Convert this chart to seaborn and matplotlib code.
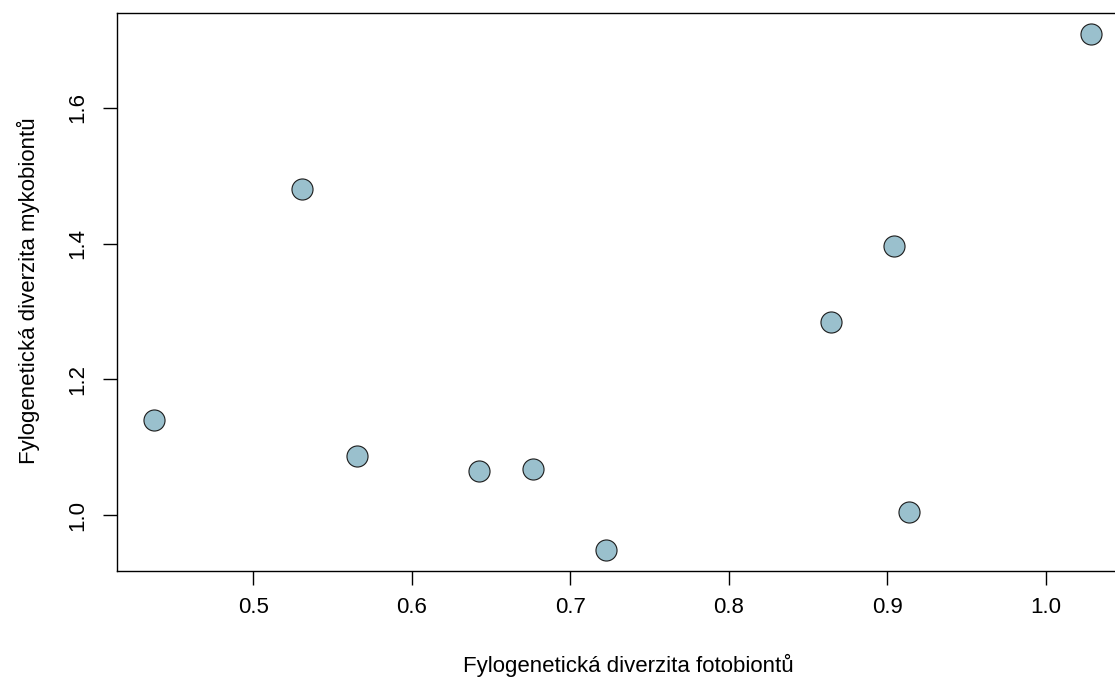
import matplotlib
matplotlib.use("Agg")
import matplotlib.pyplot as plt
import seaborn as sns
import pandas as pd

# data
fotobionti = [0.4377, 0.5305, 0.5655, 0.6423, 0.6763, 0.7229, 0.8646, 0.9043, 0.9137, 1.0283]
mykobionti = [1.141, 1.481, 1.088, 1.065, 1.068, 0.9485, 1.285, 1.397, 1.0044, 1.709]
x_ticks = [0.5, 0.6, 0.7, 0.8, 0.9, 1.0]
y_ticks = [1.0, 1.2, 1.4, 1.6]

df = pd.DataFrame({"foto": fotobionti, "myko": mykobionti})

sns.set_style("white")
plt.rcParams["font.family"] = ["Liberation Sans", "DejaVu Sans"]

fig = plt.figure(figsize=(11.15, 6.78), dpi=100)
ax = fig.add_axes([117 / 1115, 107 / 678, (1128 - 117) / 1115, (571 - 13) / 678])

sns.scatterplot(data=df, x="foto", y="myko", ax=ax, s=230, color="#9ac0cd",
                edgecolor="#1a1a1a", linewidth=0.8, zorder=3)

# R-style 4% padding
xr = max(fotobionti) - min(fotobionti)
yr = max(mykobionti) - min(mykobionti)
ax.set_xlim(min(fotobionti) - 0.04 * xr, max(fotobionti) + 0.04 * xr)
ax.set_ylim(min(mykobionti) - 0.04 * yr, max(mykobionti) + 0.04 * yr)

ax.set_xticks(x_ticks)
ax.set_xticklabels([f"{v:.1f}" for v in x_ticks])
ax.set_yticks(y_ticks)
ax.set_yticklabels([f"{v:.1f}" for v in y_ticks], rotation=90, va="center")
ax.tick_params(axis="both", direction="out", length=10, width=1, color="black",
               labelsize=16, pad=9, left=True, bottom=True, labelcolor="black")
ax.tick_params(axis="y", pad=11)

for sp in ax.spines.values():
    sp.set_color("black")
    sp.set_linewidth(1)

ax.set_xlabel("Fylogenetická diverzita fotobiontů", fontsize=16, color="black")
ax.set_ylabel("Fylogenetická diverzita mykobiontů", fontsize=16, color="black")
ax.xaxis.label.set_va("center")
ax.yaxis.label.set_va("center")
ax.xaxis.set_label_coords((628 - 117) / (1128 - 117), -(665 - 571) / (571 - 13))
ax.yaxis.set_label_coords(-(117 - 28) / (1128 - 117), (571 - 291) / (571 - 13))

fig.savefig("out.png", dpi=100)
